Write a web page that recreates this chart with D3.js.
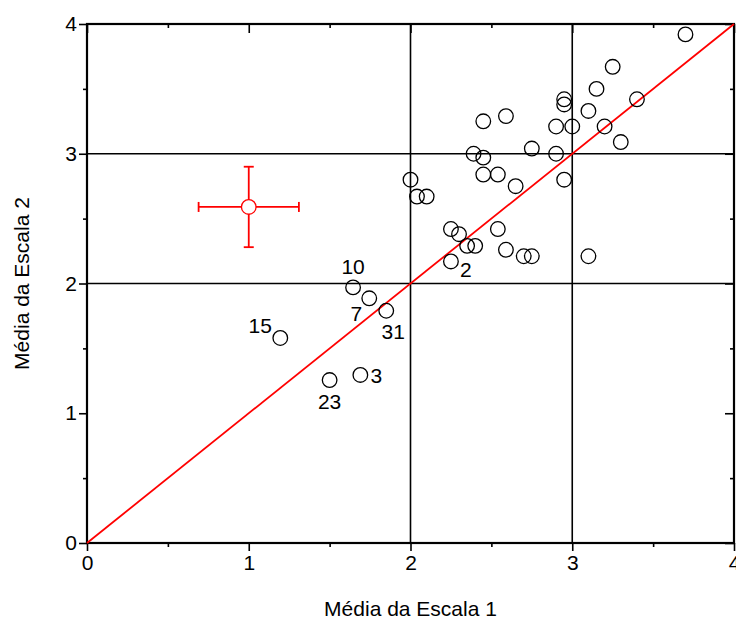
<!DOCTYPE html>
<html>
<head>
<meta charset="utf-8">
<script src="https://cdn.jsdelivr.net/npm/d3@7"></script>
<style>
body { margin: 0; background: #fff; }
text { font-family: "Liberation Sans", Arial, sans-serif; }
</style>
</head>
<body>
<div class="chart"></div>
<script>
// medias das duas escalas por sujeito
var escala1 = [3.70, 3.25, 3.15, 2.95, 2.95, 3.40, 3.10, 2.59, 2.45, 2.90, 3.00, 3.20, 3.30, 2.75,
    2.90, 2.39, 2.45, 2.45, 2.54, 2.95, 2.65, 2.00, 2.04, 2.10, 2.25, 2.54, 2.30, 2.35, 2.40,
    2.59, 2.70, 2.75, 3.10, 2.25, 1.645, 1.745, 1.85, 1.195, 1.69, 1.50];
var escala2 = [3.92, 3.67, 3.50, 3.42, 3.38, 3.42, 3.33, 3.29, 3.25, 3.21, 3.21, 3.21, 3.09, 3.04,
    3.00, 3.00, 2.97, 2.84, 2.84, 2.80, 2.75, 2.80, 2.67, 2.67, 2.42, 2.42, 2.38, 2.29, 2.29,
    2.26, 2.21, 2.21, 2.21, 2.17, 1.97, 1.886, 1.79, 1.58, 1.295, 1.256];
var rotulos = ["", "", "", "", "", "", "", "", "", "", "", "", "", "",
    "", "", "", "", "", "", "", "", "", "", "", "", "", "", "",
    "", "", "", "", "2", "10", "7", "31", "15", "3", "23"];
// posicion del rotulo respecto al punto (en pixeles)
var rotuloDx = [];
var rotuloDy = [];
rotulos.forEach(function(r, i) { rotuloDx.push(0); rotuloDy.push(0); });
rotuloDx[33] = 15; rotuloDy[33] = 8;
rotuloDx[34] = 0;  rotuloDy[34] = -21;
rotuloDx[35] = -13; rotuloDy[35] = 15;
rotuloDx[36] = 7;  rotuloDy[36] = 21;
rotuloDx[37] = -20; rotuloDy[37] = -13;
rotuloDx[38] = 16; rotuloDy[38] = 0;
rotuloDx[39] = 0;  rotuloDy[39] = 21;

// media global com erro
var mediaX = [1.0];
var mediaY = [2.59];
var erroX = [0.31];
var erroY = [0.31];

var gradeX = [2, 3];
var gradeY = [2, 3];

var margin = { top: 24, right: 2, bottom: 78, left: 87 },
    width = 736 - margin.left - margin.right,
    height = 621 - margin.top - margin.bottom;

var svg = d3.select('.chart')
    .append('svg')
    .attr("width", 736)
    .attr("height", 621)
    .append("g")
    .attr("transform", "translate(" + margin.left + "," + margin.top + ")");

var x = d3.scaleLinear().domain([0, 4]).range([0, width]);
var y = d3.scaleLinear().domain([0, 4]).range([height, 0]);

var meios = [0.5, 1.5, 2.5, 3.5];

// eixos
function eixo(ax, tam, menor) {
    return ax.tickValues(menor ? meios : [0, 1, 2, 3, 4])
        .tickSize(tam)
        .tickSizeOuter(0)
        .tickFormat(menor ? "" : d3.format("d"));
}

var gx = svg.append("g").attr("transform", "translate(0," + height + ")");
gx.call(eixo(d3.axisBottom(x), 8, false));
gx.append("g").call(eixo(d3.axisBottom(x), 4, true));

var gy = svg.append("g");
gy.call(eixo(d3.axisLeft(y), 8, false));
gy.append("g").call(eixo(d3.axisLeft(y), 4, true));

var gt = svg.append("g");
gt.call(eixo(d3.axisBottom(x), 9, false).tickFormat(""));
gt.append("g").call(eixo(d3.axisBottom(x), 4, true));

var gr = svg.append("g").attr("transform", "translate(" + width + ",0)");
gr.call(eixo(d3.axisLeft(y), 9, false).tickFormat(""));
gr.append("g").call(eixo(d3.axisLeft(y), 4, true));

svg.selectAll(".domain").remove();
svg.selectAll(".tick line").attr("stroke", "#000").attr("stroke-width", 1.6);
svg.selectAll(".tick text")
    .attr("font-size", "21px")
    .attr("fill", "#000");
gx.selectAll(".tick text").attr("y", 12).attr("dy", "0.71em");
gy.selectAll(".tick text").attr("x", -10);

// grade
svg.selectAll(".gx").data(gradeX).enter().append("line")
    .attr("x1", function(d) { return x(d); })
    .attr("x2", function(d) { return x(d); })
    .attr("y1", 0).attr("y2", height)
    .attr("stroke", "#000").attr("stroke-width", 1.6);
svg.selectAll(".gy").data(gradeY).enter().append("line")
    .attr("y1", function(d) { return y(d); })
    .attr("y2", function(d) { return y(d); })
    .attr("x1", 0).attr("x2", width)
    .attr("stroke", "#000").attr("stroke-width", 1.6);

// moldura
svg.append("rect")
    .attr("width", width).attr("height", height)
    .attr("fill", "none").attr("stroke", "#000").attr("stroke-width", 2.2);

// linha y = x
svg.append("line")
    .attr("x1", x(0)).attr("y1", y(0))
    .attr("x2", x(4)).attr("y2", y(4))
    .attr("stroke", "#f00").attr("stroke-width", 1.8);

// pontos
var dados = escala1.map(function(d, i) {
    return { e1: d, e2: escala2[i], rot: rotulos[i], dx: rotuloDx[i], dy: rotuloDy[i] };
});

svg.selectAll(".ponto").data(dados).enter().append("circle")
    .attr("class", "ponto")
    .attr("cx", function(d) { return x(d.e1); })
    .attr("cy", function(d) { return y(d.e2); })
    .attr("r", 7.3)
    .attr("fill", "none")
    .attr("stroke", "#000")
    .attr("stroke-width", 1.3);

svg.selectAll(".rot").data(dados.filter(function(d) { return d.rot; })).enter().append("text")
    .attr("x", function(d) { return x(d.e1) + d.dx; })
    .attr("y", function(d) { return y(d.e2) + d.dy; })
    .attr("dy", "0.36em")
    .attr("text-anchor", "middle")
    .attr("font-size", "21px")
    .text(function(d) { return d.rot; });

// media com barras de erro
var erro = svg.append("g").attr("stroke", "#f00").attr("stroke-width", 1.8);
mediaX.forEach(function(mx, i) {
    var my = mediaY[i];
    erro.append("line").attr("x1", x(mx - erroX[i])).attr("x2", x(mx + erroX[i]))
        .attr("y1", y(my)).attr("y2", y(my));
    erro.append("line").attr("y1", y(my - erroY[i])).attr("y2", y(my + erroY[i]))
        .attr("x1", x(mx)).attr("x2", x(mx));
    [mx - erroX[i], mx + erroX[i]].forEach(function(v) {
        erro.append("line").attr("x1", x(v)).attr("x2", x(v))
            .attr("y1", y(my) - 5).attr("y2", y(my) + 5);
    });
    [my - erroY[i], my + erroY[i]].forEach(function(v) {
        erro.append("line").attr("y1", y(v)).attr("y2", y(v))
            .attr("x1", x(mx) - 5).attr("x2", x(mx) + 5);
    });
    erro.append("circle").attr("cx", x(mx)).attr("cy", y(my)).attr("r", 7.3)
        .attr("fill", "#fff").attr("stroke-width", 1.3);
});

// titulos dos eixos
svg.append("text")
    .attr("x", width / 2)
    .attr("y", height + 73)
    .attr("text-anchor", "middle")
    .attr("font-size", "21px")
    .text("Média da Escala 1");

svg.append("text")
    .attr("transform", "translate(" + (-58) + "," + (height / 2) + ") rotate(-90)")
    .attr("text-anchor", "middle")
    .attr("font-size", "21px")
    .text("Média da Escala 2");
</script>
</body>
</html>
